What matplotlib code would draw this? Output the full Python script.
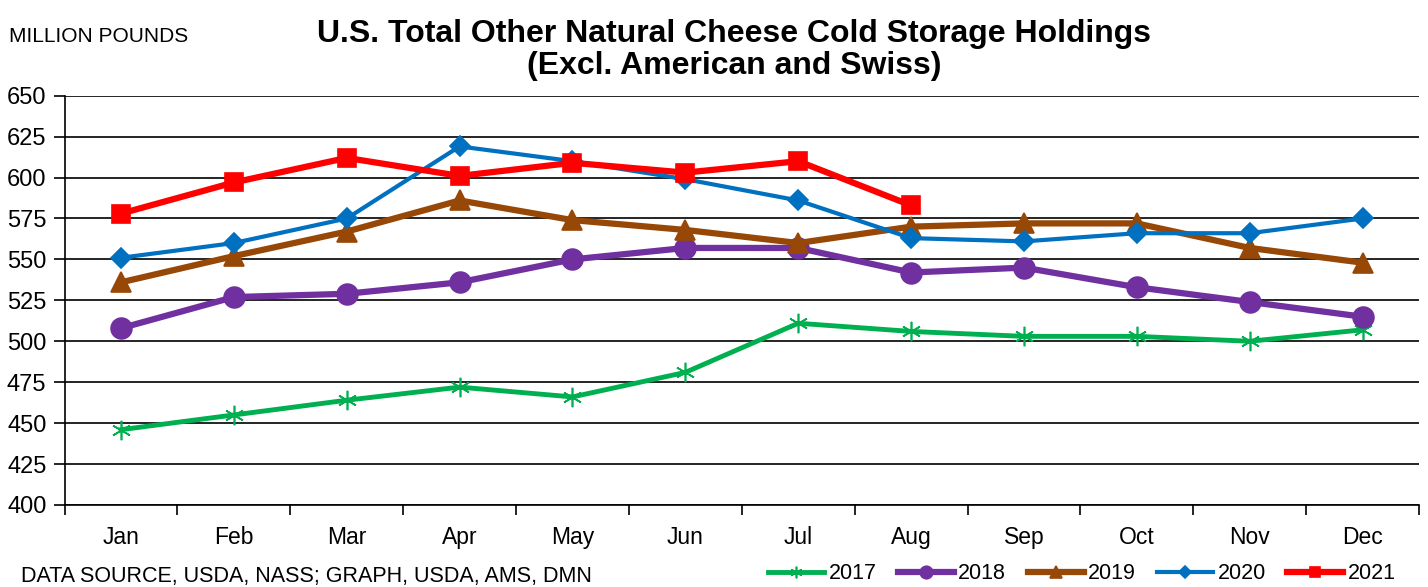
import matplotlib.pyplot as plt
import numpy as np

plt.rcParams["font.family"] = ["Liberation Sans", "DejaVu Sans"]

months = ["Jan", "Feb", "Mar", "Apr", "May", "Jun",
          "Jul", "Aug", "Sep", "Oct", "Nov", "Dec"]

# million pounds, end of month
y2017 = [446, 455, 464, 472, 466, 481, 511, 506, 503, 503, 500, 507]
y2018 = [508, 527, 529, 536, 550, 557, 557, 542, 545, 533, 524, 515]
y2019 = [536, 552, 567, 586, 574, 568, 560, 570, 572, 572, 557, 548]
y2020 = [551, 560, 575, 619, 610, 599, 586, 563, 561, 566, 566, 575]
y2021 = [578, 597, 612, 601, 609, 603, 610, 583]

series = [
    ("2017", y2017, "#00b050", (6, 2, 0), 14, 3.5),
    ("2018", y2018, "#7030a0", "o", 15, 4.5),
    ("2019", y2019, "#974706", "^", 15, 4.5),
    ("2020", y2020, "#0070c0", "D", 10, 3.0),
    ("2021", y2021, "#ff0000", "s", 13, 4.5),
]

fig = plt.figure(figsize=(14.28, 5.87), dpi=100)
ax = fig.add_axes([0.0452, 0.1397, 0.9485, 0.6973])

x = np.arange(len(months))
for name, vals, color, marker, ms, lw in series:
    ax.plot(x[:len(vals)], vals, color=color, lw=lw, marker=marker,
            markersize=ms, markeredgecolor=color, markeredgewidth=1.2,
            label=name, zorder=3)

ax.set_xlim(-0.5, 11.5)
ax.set_ylim(400, 650)
ax.set_yticks(np.arange(400, 651, 25))
ax.yaxis.grid(True, color="black", lw=1.2)
ax.set_axisbelow(True)

ax.set_xticks(x)
ax.set_xticklabels(months)
ax.set_xticks(np.arange(-0.5, 12, 1), minor=True)
ax.tick_params(axis="x", which="major", length=0, pad=15, labelsize=16.5)
ax.tick_params(axis="x", which="minor", length=7, width=1.2, direction="out")
ax.tick_params(axis="y", length=8, width=1.2, labelsize=17, pad=5)

for side in ("top", "right"):
    ax.spines[side].set_visible(False)
for side in ("left", "bottom"):
    ax.spines[side].set_linewidth(1.2)

fig.text(0.514, 0.915, "U.S. Total Other Natural Cheese Cold Storage Holdings\n(Excl. American and Swiss)",
         ha="center", va="center", fontsize=23, fontweight="bold", linespacing=1.1)
fig.text(0.006, 0.937, "MILLION POUNDS", ha="left", va="center", fontsize=15)
fig.text(0.015, 0.018, "DATA SOURCE, USDA, NASS; GRAPH, USDA, AMS, DMN",
         ha="left", va="center", fontsize=15.5)

fig.legend(loc="lower right", bbox_to_anchor=(0.991, -0.028), ncol=5,
           frameon=False, fontsize=15.5, handlelength=2.6, handletextpad=0.2,
           columnspacing=1.0, markerscale=0.6)

fig.savefig("out.png", dpi=100)
